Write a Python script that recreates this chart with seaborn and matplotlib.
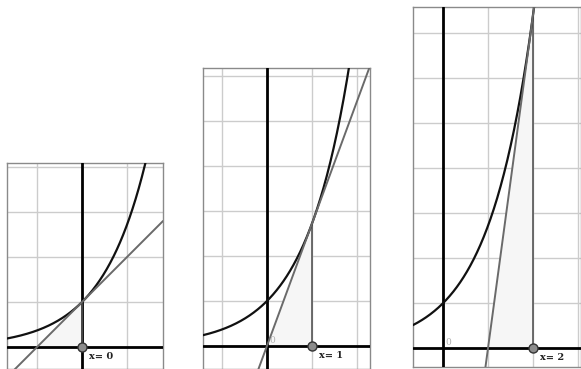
import numpy as np
import matplotlib
matplotlib.use("Agg")
import matplotlib.pyplot as plt
import seaborn as sns

# tangent points and the view window of each panel (data units)
x0_list = [0, 1, 2]
labels = ["x= 0", "x= 1", "x= 2"]
xlims = [(-1.67, 1.8), (-1.42, 2.29), (-0.67, 3.07)]
ylims = [(-0.49, 4.09), (-0.51, 6.18), (-0.42, 7.58)]

# panel frames in pixels: left, right, top, bottom
W, H = 581, 369
frames = [(7, 163, 163, 369), (203, 370, 68, 369), (413, 581, 7, 367)]

sns.set_style("white")
fig = plt.figure(figsize=(W / 100, H / 100), dpi=100)

for i, x0 in enumerate(x0_list):
    l, r, t, b = frames[i]
    ax = fig.add_axes([l / W, 1 - b / H, (r - l) / W, (b - t) / H])
    xmin, xmax = xlims[i]
    ymin, ymax = ylims[i]

    # grid every unit
    ax.set_xticks(np.arange(np.ceil(xmin), xmax, 1))
    ax.set_yticks(np.arange(np.ceil(ymin), ymax, 1))
    ax.grid(True, color="#cccccc", lw=1)
    ax.tick_params(length=0, labelbottom=False, labelleft=False)
    for s in ax.spines.values():
        s.set_color("#8a8a8a")
        s.set_linewidth(1)

    y0 = np.exp(x0)
    # shaded triangle under the tangent
    ax.fill([x0 - 1, x0, x0], [0, 0, y0], color="#f6f6f6", zorder=1, lw=0)

    ax.axhline(0, color="k", lw=2, zorder=3)
    ax.axvline(0, color="k", lw=2, zorder=3)

    xs = np.linspace(xmin, xmax, 400)
    sns.lineplot(x=xs, y=np.exp(xs), ax=ax, color="#111111", lw=1.6, zorder=4)
    sns.lineplot(x=xs, y=y0 * (xs - x0) + y0, ax=ax, color="#6a6a6a", lw=1.4, zorder=4)
    ax.plot([x0, x0], [0, y0], color="#555555", lw=1.2, zorder=3)

    ax.plot([x0], [0], "o", ms=6.5, mfc="#8c8c8c", mec="#333333", mew=1, zorder=6)
    ax.annotate(labels[i], (x0, 0), xytext=(5, -7), textcoords="offset points",
                fontsize=7, fontweight="bold", family="DejaVu Serif",
                color="#222222", va="center", ha="left", zorder=7)
    if x0 > 0:
        ax.annotate("0", (0, 0), xytext=(2, 4), textcoords="offset points",
                    fontsize=6.5, family="DejaVu Serif", color="#b0b0b0",
                    va="center", ha="left", zorder=5)

    ax.set_xlim(xmin, xmax)
    ax.set_ylim(ymin, ymax)

fig.savefig("out.png", dpi=100)
